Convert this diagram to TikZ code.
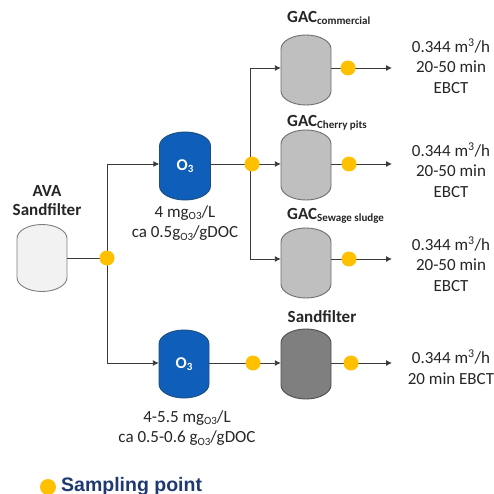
\documentclass[tikz,border=0pt]{standalone}
\usepackage{fontspec}
\setmainfont{Carlito}
\newfontfamily\legendfont{Liberation Sans}
\usetikzlibrary{arrows.meta}
\definecolor{ozblue}{HTML}{0E5EBA}
\definecolor{ozedge}{HTML}{1F4E79}
\definecolor{gacfill}{HTML}{BFBFBF}
\definecolor{gacedge}{HTML}{6E6E6E}
\definecolor{sffill}{HTML}{7F7F7F}
\definecolor{sfedge}{HTML}{4D4D4D}
\definecolor{avafill}{HTML}{F2F2F2}
\definecolor{avaedge}{HTML}{7F7F7F}
\definecolor{sampyellow}{HTML}{FFC000}
\definecolor{linegray}{HTML}{3A3A3A}
\definecolor{legendblue}{HTML}{1F3A70}
\newcommand\tankpath[6]{%
  \path[fill=#5,draw=#6,line width=0.9pt]
   ({#1-#3/2},{#2+#4/2-14}) arc[start angle=180,end angle=0,x radius={#3*0.5pt},y radius=14pt]
   -- ({#1+#3/2},{#2-#4/2+14}) arc[start angle=0,end angle=-180,x radius={#3*0.5pt},y radius=14pt]
   -- cycle;}
\newcommand\tank[8]{%
  \tankpath{#2}{#3}{#4}{#5}{#6}{#7}
  \node[minimum width=#4pt, minimum height=#5pt, inner sep=0pt, font=\bfseries\fontsize{16.5}{18}\selectfont, text=white] (#1) at (#2,#3) {#8};}
\newcommand\sbs[1]{\raisebox{-2.5pt}{\fontsize{11}{11}\selectfont #1}}
\newcommand\osb[1]{\raisebox{-2.5pt}{\fontsize{11}{11}\selectfont #1}}
\tikzset{
  conn/.style={draw=linegray, line width=0.9pt},
  arr/.style={conn, -{Latex[length=6pt,width=6pt]}},
  sdot/.style={circle, fill=sampyellow, draw=none, minimum size=15pt, inner sep=0pt},
  body/.style={font=\fontsize{17}{20.5}\selectfont, align=center, inner sep=0pt, text=black!85},
  blabel/.style={font=\bfseries\fontsize{17}{19}\selectfont, align=center, inner sep=0pt, text=black!85},
}
\begin{document}
\begin{tikzpicture}[x=1pt,y=1pt]
\useasboundingbox[fill=white] (0,0) rectangle (493,-494);
% tanks
\tank{ava}{42}{-258}{50}{67}{avafill}{avaedge}{}
\tank{o3a}{185}{-166}{51}{68}{ozblue}{ozedge}{O\osb{3}}
\tank{gac1}{306}{-70}{50}{70}{gacfill}{gacedge}{}
\tank{gac2}{306}{-165}{50}{70}{gacfill}{gacedge}{}
\tank{gac3}{306}{-263}{50}{70}{gacfill}{gacedge}{}
\tank{o3b}{184}{-364}{50}{68}{ozblue}{ozedge}{O\osb{3}}
\tank{sf}{306}{-364}{50}{70}{sffill}{sfedge}{}
% coordinates
\coordinate (a1) at (107,-164);
\coordinate (a2) at (107,-363);
\coordinate (b1) at (250,-68);
\coordinate (b2) at (250,-259);
\coordinate (e1) at (392,-68);
\coordinate (e2) at (392,-164);
\coordinate (e3) at (392,-259);
\coordinate (e4) at (392,-363);
% dots (positions)
\path (107,-258) coordinate (pd1) (252,-164) coordinate (pd2) (253,-363) coordinate (pd3)
      (348,-68) coordinate (ps1) (349,-164) coordinate (ps2) (349,-259) coordinate (ps3) (351,-363) coordinate (ps4);
% connectors
\draw[conn] (ava.east) -- (pd1);
\draw[conn] (a1) -- (a2);
\draw[arr] (a1) -- (a1 -| o3a.west);
\draw[arr] (a2) -- (a2 -| o3b.west);
\draw[conn] (o3a.east |- a1) -- (pd2);
\draw[conn] (b1) -- (b2);
\draw[arr] (b1) -- (b1 -| gac1.west);
\draw[arr] (pd2) -- (pd2 -| gac2.west);
\draw[arr] (b2) -- (b2 -| gac3.west);
\draw[conn] (o3b.east |- a2) -- (pd3);
\draw[arr] (pd3) -- (pd3 -| sf.west);
\draw[conn] (gac1.east |- ps1) -- (ps1);
\draw[arr] (ps1) -- (e1);
\draw[conn] (gac2.east |- ps2) -- (ps2);
\draw[arr] (ps2) -- (e2);
\draw[conn] (gac3.east |- ps3) -- (ps3);
\draw[arr] (ps3) -- (e3);
\draw[conn] (sf.east |- ps4) -- (ps4);
\draw[arr] (ps4) -- (e4);
% sampling dots
\node[sdot] (d1) at (pd1) {};
\node[sdot] (d2) at (pd2) {};
\node[sdot] (d3) at (pd3) {};
\node[sdot] (s1) at (ps1) {};
\node[sdot] (s2) at (ps2) {};
\node[sdot] (s3) at (ps3) {};
\node[sdot] (s4) at (ps4) {};
% labels
\node[blabel] (lava) at (47,-201) {AVA\\Sandfilter};
\node[blabel, anchor=west] (lg1) at (287,-18) {GAC\sbs{commercial}};
\node[blabel, anchor=west] (lg2) at (287,-123) {GAC\sbs{Cherry pits}};
\node[blabel, anchor=west] (lg3) at (287,-216) {GAC\sbs{Sewage sludge}};
\node[blabel] (lsf) at (322,-317) {Sandfilter};
\node[body] (lo3a) at (185,-223) {4 mg\sbs{O3}/L\\ca 0.5g\sbs{O3}/gDOC};
\node[body] (lo3b) at (187,-428) {4-5.5 mg\sbs{O3}/L\\ca 0.5-0.6 g\sbs{O3}/gDOC};
\node[body] (t1) at (451,-66) {0.344 m\textsuperscript{3}/h\\20-50 min\\EBCT};
\node[body] (t2) at (451,-170) {0.344 m\textsuperscript{3}/h\\20-50 min\\EBCT};
\node[body] (t3) at (451,-264) {0.344 m\textsuperscript{3}/h\\20-50 min\\EBCT};
\node[body] (t4) at (451,-367) {0.344 m\textsuperscript{3}/h\\20 min EBCT};
% legend
\node[sdot, minimum size=16pt] (ldot) at (48,-487) {};
\node[anchor=west, inner sep=0pt, text=legendblue, font=\legendfont\bfseries\fontsize{19.5}{22}\selectfont] (ltext) at (61,-486) {Sampling point};
\end{tikzpicture}
\end{document}
